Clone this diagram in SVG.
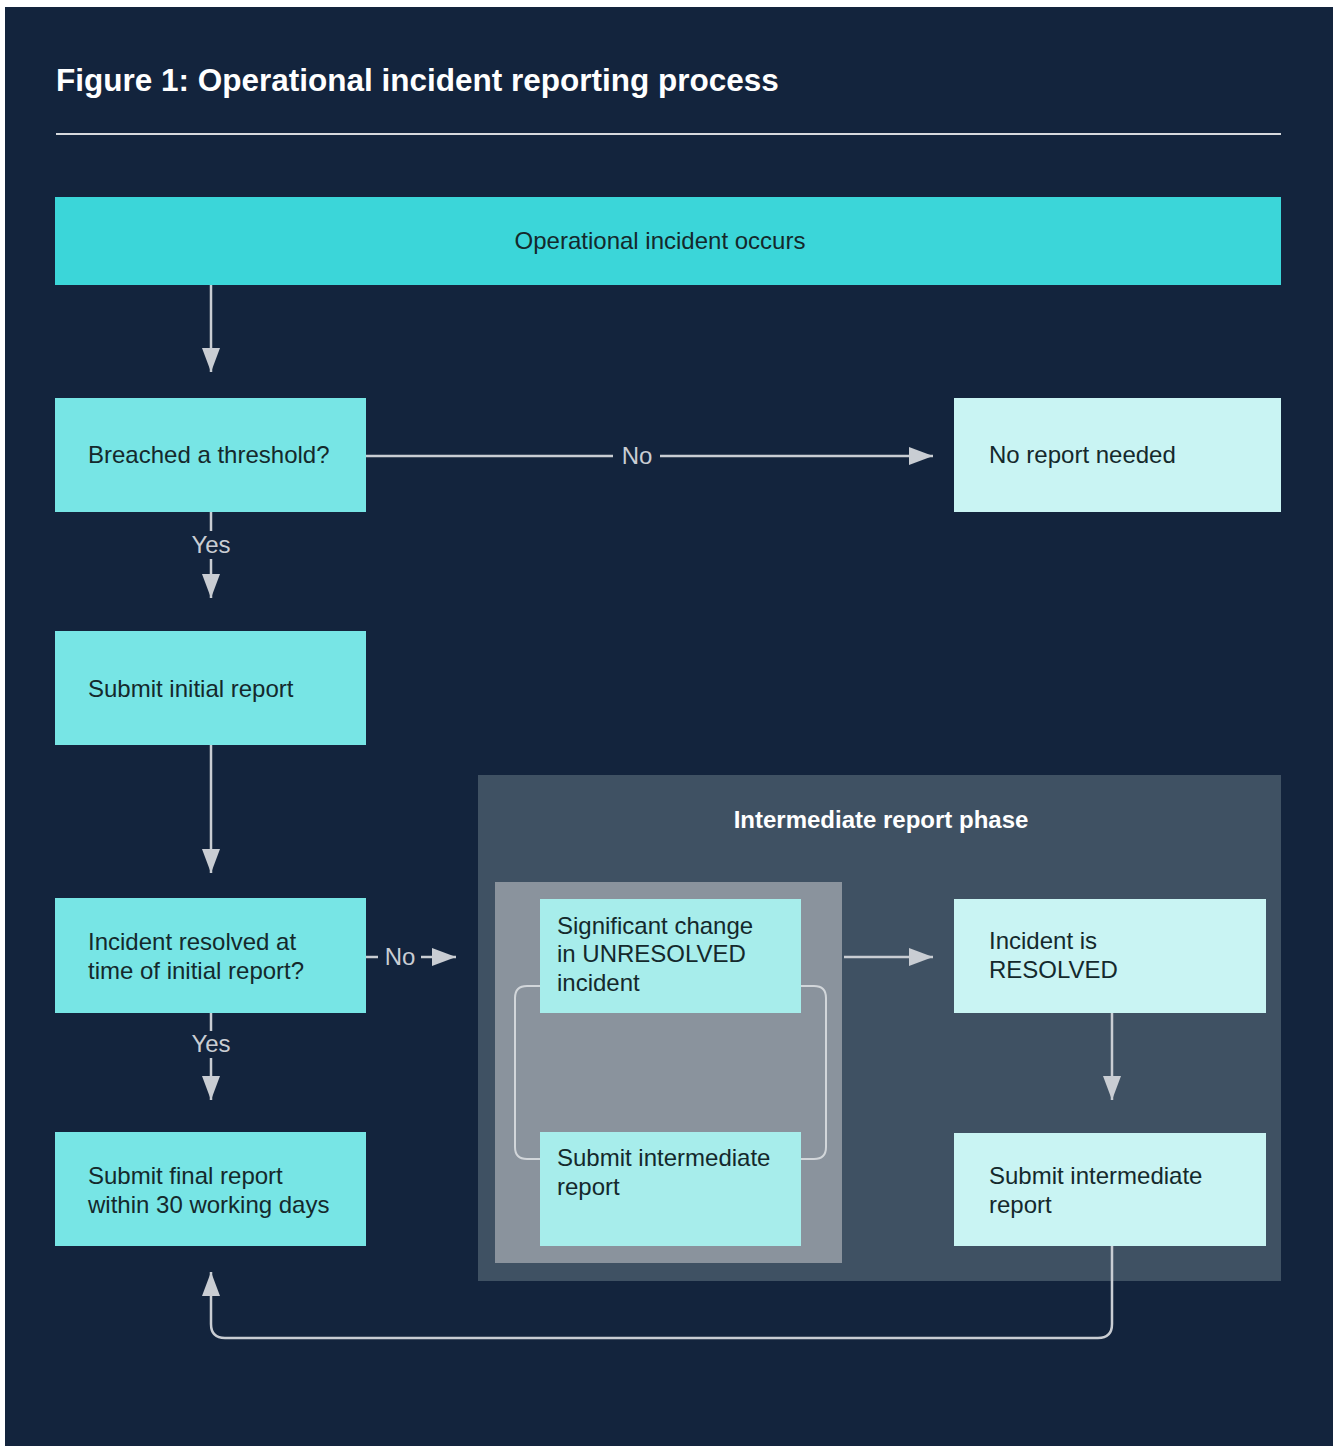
<svg xmlns="http://www.w3.org/2000/svg" width="1333" height="1446" viewBox="0 0 1333 1446">
<defs>
<style>
.box text, .lbl { font-family: "Liberation Sans", Arial, sans-serif; font-size: 24px; fill: #14292c; }
.lbl { fill: #c9cdd3; text-anchor: middle; }
.c1 { fill: #3bd6d9; }
.c2 { fill: #77e5e5; }
.c3 { fill: #c9f4f3; }
.c4 { fill: #a7edeb; }
.ln { stroke: #c9cdd3; stroke-width: 2.5; fill: none; }
.loop { stroke: #d2d6da; stroke-width: 2; fill: none; }
</style>
<marker id="ah" viewBox="0 0 24 18" refX="24" refY="9" markerWidth="24" markerHeight="18" markerUnits="userSpaceOnUse" orient="auto">
<path d="M0,0 L24,9 L0,18 Z" fill="#c9cdd3"/>
</marker>
</defs>
<rect x="0" y="0" width="1333" height="1446" fill="#ffffff"/>
<rect x="5" y="7" width="1328" height="1439" fill="#13243d"/>
<text x="56" y="91" font-family="Liberation Sans, Arial, sans-serif" font-size="31.5" font-weight="bold" fill="#ffffff">Figure 1: Operational incident reporting process</text>
<line x1="56" y1="134" x2="1281" y2="134" stroke="#d6d9dd" stroke-width="2"/>

<g id="phase">
<rect x="478" y="775" width="803" height="506" fill="#3f5163"/>
<text x="881" y="828" text-anchor="middle" font-family="Liberation Sans, Arial, sans-serif" font-size="24" font-weight="bold" fill="#ffffff">Intermediate report phase</text>
<rect x="495" y="882" width="347" height="381" fill="#8a939d"/>
</g>

<g id="connectors">
<path class="ln" d="M211,285 V372" marker-end="url(#ah)"/>
<path class="ln" d="M211,512 V531"/>
<path class="ln" d="M211,559 V598" marker-end="url(#ah)"/>
<text class="lbl" x="211" y="553">Yes</text>
<path class="ln" d="M366,456 H613"/>
<path class="ln" d="M660,456 H933" marker-end="url(#ah)"/>
<text class="lbl" x="637" y="464">No</text>
<path class="ln" d="M211,745 V873" marker-end="url(#ah)"/>
<path class="ln" d="M366,957 H378"/>
<path class="ln" d="M421,957 H456" marker-end="url(#ah)"/>
<text class="lbl" x="400" y="965">No</text>
<path class="ln" d="M211,1013 V1031"/>
<path class="ln" d="M211,1058 V1100" marker-end="url(#ah)"/>
<text class="lbl" x="211" y="1052">Yes</text>
<path class="loop" d="M540,986 H527 Q515,986 515,998 V1147 Q515,1159 527,1159 H540"/>
<path class="loop" d="M801,986 H814 Q826,986 826,998 V1147 Q826,1159 814,1159 H801"/>
<path class="ln" d="M844,957 H933" marker-end="url(#ah)"/>
<path class="ln" d="M1112,1013 V1100" marker-end="url(#ah)"/>
<path class="ln" d="M1112,1246 V1324 Q1112,1338 1098,1338 H225 Q211,1338 211,1324 V1272" marker-end="url(#ah)"/>
</g>

<g id="n-occurs" class="box">
<rect class="c1" x="55" y="197" width="1226" height="88"/>
<text x="660" y="249" text-anchor="middle">Operational incident occurs</text>
</g>
<g id="n-breached" class="box">
<rect class="c2" x="55" y="398" width="311" height="114"/>
<text x="88" y="463">Breached a threshold?</text>
</g>
<g id="n-noreport" class="box">
<rect class="c3" x="954" y="398" width="327" height="114"/>
<text x="989" y="463">No report needed</text>
</g>
<g id="n-initial" class="box">
<rect class="c2" x="55" y="631" width="311" height="114"/>
<text x="88" y="697">Submit initial report</text>
</g>
<g id="n-resolved-q" class="box">
<rect class="c2" x="55" y="898" width="311" height="115"/>
<text x="88" y="950">Incident resolved at</text>
<text x="88" y="979">time of initial report?</text>
</g>
<g id="n-final" class="box">
<rect class="c2" x="55" y="1132" width="311" height="114"/>
<text x="88" y="1184">Submit final report</text>
<text x="88" y="1213">within 30 working days</text>
</g>
<g id="n-change" class="box">
<rect class="c4" x="540" y="899" width="261" height="114"/>
<text x="557" y="934">Significant change</text>
<text x="557" y="962">in UNRESOLVED</text>
<text x="557" y="991">incident</text>
</g>
<g id="n-inter-left" class="box">
<rect class="c4" x="540" y="1132" width="261" height="114"/>
<text x="557" y="1166">Submit intermediate</text>
<text x="557" y="1195">report</text>
</g>
<g id="n-is-resolved" class="box">
<rect class="c3" x="954" y="899" width="312" height="114"/>
<text x="989" y="949">Incident is</text>
<text x="989" y="978">RESOLVED</text>
</g>
<g id="n-inter-right" class="box">
<rect class="c3" x="954" y="1133" width="312" height="113"/>
<text x="989" y="1184">Submit intermediate</text>
<text x="989" y="1213">report</text>
</g>
</svg>
